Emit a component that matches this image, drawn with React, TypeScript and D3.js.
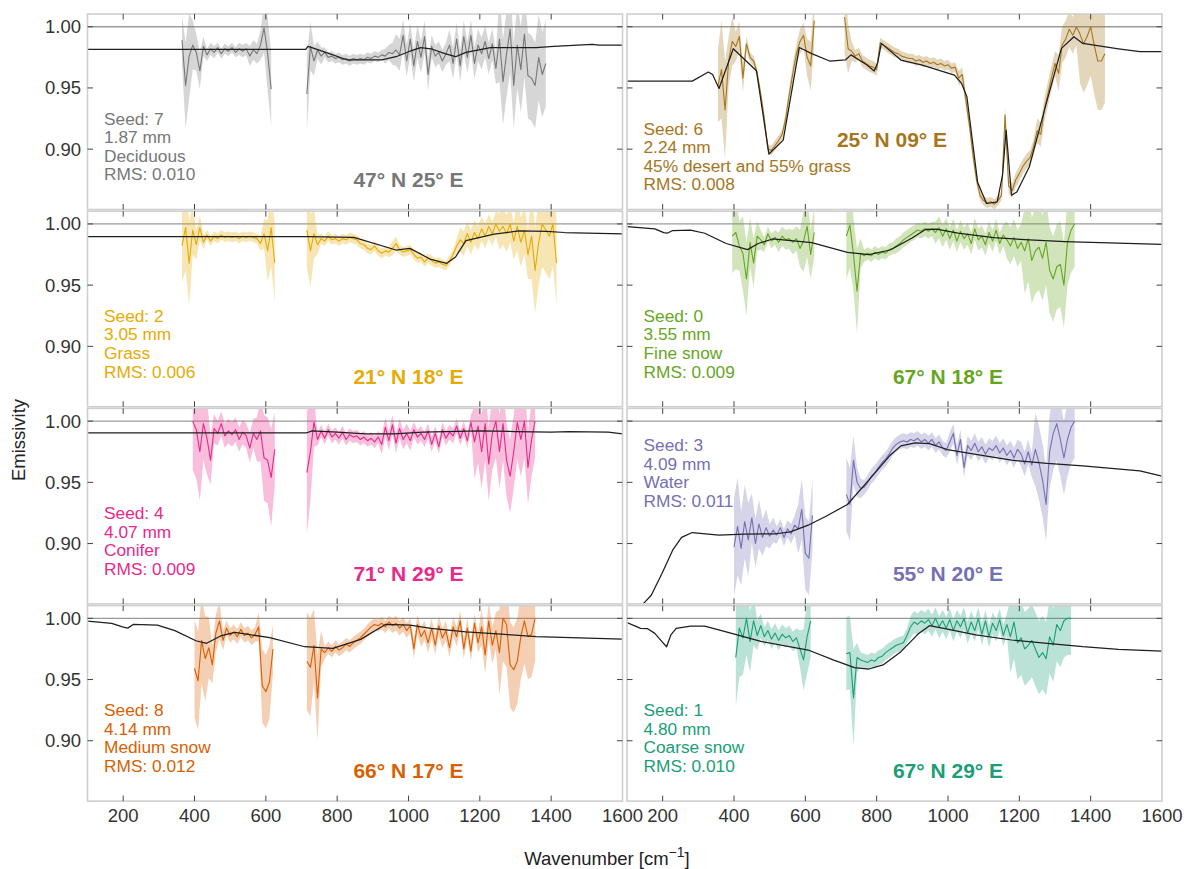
import React from "react";
import * as d3 from "d3";

const W = 1186;
const H = 869;
const COL_X = [87.5, 627];
const COL_W = 535;
const ROW_Y0 = 14;
const ROW_STEP = 197.2;
const ROW_H = 195.5;
const STEP = 10;
const FONT = "'Liberation Sans', Arial, Helvetica, sans-serif";

const X_DOMAIN: [number, number] = [100, 1600];
const Y_DOMAIN: [number, number] = [0.8507, 1.0104];
const X_TICKS = [200, 400, 600, 800, 1000, 1200, 1400, 1600];
const Y_TICKS = [0.9, 0.95, 1.0];

type Pt = [number, number];

// ---------- Panel 1: 47° N 25° E (Deciduous) ----------
const p1Ref: Pt[] = [[100, .9815], [712, .9815], [718, .984], [729, .983], [768, .979], [827, .973], [925, .973], [965, .9755], [1004, .980], [1034, .983], [1063, .982], [1102, .978], [1132, .9755], [1161, .979], [1230, .983], [1358, .983], [1407, .984], [1515, .9855], [1535, .985], [1600, .985]];
const p1AStart = 365;
const p1A = [.989, .952, .976, .985, .979, .964, .984, .977, .982, .979, .983, .978, .982, .980, .983, .979, .982, .980, .982, .976, .981, .978, .985, .999, .978, .949];
const p1ASd: Pt[] = [[365, .02], [375, .035], [395, .02], [405, .015], [425, .008], [435, .005], [465, .004], [525, .005], [555, .008], [585, .012], [595, .02], [605, .03]];
const p1BStart = 715;
const p1B = [.945, .984, .972, .981, .976, .979, .975, .976, .974, .975, .973, .974, .972, .974, .973, .974, .973, .975, .974, .976, .975, .977, .976, .979, .978, .981, .977, .993, .972, .990, .968, .988, .975, .992, .961, .984, .976, .979, .972, .978, .985, .970, .990, .968, .992, .975, .993, .970, .985, .978, .988, .974, .986, .966, .990, .955, .978, .998, .952, .985, .965, .994, .960, .958, .952, .975, .961, .970];
const p1BSd: Pt[] = [[715, .03], [725, .02], [735, .012], [745, .007], [765, .004], [935, .006], [955, .009], [965, .013], [1065, .009], [1115, .013], [1255, .035]];

// ---------- Panel 2: 25° N 09° E (desert / grass) ----------
const p2Ref: Pt[] = [[100, .9556], [283, .9556], [328, .963], [340, .961], [358, .9496], [398, .982], [463, .964], [498, .896], [538, .9074], [583, .983], [618, .978], [668, .972], [713, .973], [728, .977], [773, .9687], [793, .9638], [803, .9706], [813, .9864], [868, .9728], [928, .9687], [1018, .9605], [1038, .9537], [1053, .9428], [1083, .873], [1108, .8556], [1138, .857], [1153, .879], [1163, .9155], [1178, .8624], [1193, .865], [1228, .8856], [1278, .94], [1318, .9823], [1353, .9918], [1378, .9864], [1478, .982], [1538, .9796], [1600, .9796]];
const p2AStart = 355;
const p2A = [.952, .965, .932, .972, .988, .984, .992, .958, .986, .975, .972, .962, .945, .925, .900, .899, .903, .907, .912, .925, .945, .962, .978, .988, .993, .975, .968, 1.005];
const p2ASd: Pt[] = [[355, .03], [365, .04], [385, .02], [405, .012], [435, .006], [445, .004], [545, .005], [565, .008], [585, .01], [605, .015], [615, .02]];
const p2BStart = 710;
const p2B = [1.008, .982, .980, .976, .978, .972, .970, .968, .967, .965, .987, .985, .983, .981, .979, .978, .976, .975, .974, .974, .972, .973, .971, .972, .970, .971, .969, .970, .968, .969, .966, .967, .958, .961, .940, .920, .895, .875, .862, .858, .856, .857, .855, .858, .862, .928, .870, .866, .875, .880, .886, .890, .893, .902, .915, .912, .932, .945, .958, .970, .962, .985, .990, .998, .993, 1.000, .994, .986, .992, 1.000, .985, .972, .972, .978];
const p2BSd: Pt[] = [[710, .03], [720, .02], [730, .008], [740, .005], [810, .004], [1030, .006], [1080, .004], [1160, .006], [1250, .01], [1310, .015], [1370, .04]];

// ---------- Panel 3: 21° N 18° E (Grass) ----------
const p3Ref: Pt[] = [[100, .9896], [719, .9896], [847, .989], [965, .9787], [1004, .980], [1063, .971], [1107, .9678], [1132, .973], [1161, .9864], [1240, .9916], [1309, .9943], [1387, .994], [1437, .993], [1600, .9918]];
const p3AStart = 365;
const p3A = [.982, .997, .968, .995, .983, .997, .985, .991, .986, .990, .988, .991, .989, .990, .989, .990, .988, .990, .989, .990, .989, .988, .984, .992, .978, .997, .968];
const p3ASd: Pt[] = [[365, .03], [375, .035], [395, .02], [405, .012], [415, .01], [425, .006], [435, .004], [585, .006], [595, .012], [605, .025], [615, .032]];
const p3BStart = 715;
const p3B = [.995, .978, .992, .983, .988, .986, .990, .987, .988, .986, .988, .987, .989, .988, .987, .984, .983, .980, .979, .982, .978, .976, .978, .977, .980, .984, .979, .977, .978, .979, .975, .972, .973, .969, .972, .970, .968, .969, .967, .966, .970, .975, .982, .987, .984, .992, .985, .993, .988, .996, .990, .998, .992, 1.000, .994, .998, .992, 1.000, .986, .998, .985, .995, .975, .990, .962, .985, 1.000, .995, .990, 1.000, .968];
const p3BSd: Pt[] = [[715, .03], [735, .02], [745, .008], [755, .004], [955, .006], [975, .004], [1135, .006], [1145, .01], [1255, .015], [1305, .02], [1345, .035]];

// ---------- Panel 4: 67° N 18° E (Fine snow) ----------
const p4Ref: Pt[] = [[100, .9978], [178, .996], [203, .9929], [213, .9924], [228, .9946], [278, .995], [318, .9924], [378, .984], [438, .979], [468, .984], [508, .9877], [618, .9847], [718, .9768], [778, .975], [838, .9787], [898, .9883], [938, .9956], [968, .9958], [1028, .9924], [1128, .9888], [1228, .987], [1328, .9856], [1600, .9834]];
const p4AStart = 395;
const p4A = [.990, .993, .982, .976, .955, .985, .968, .990, .987, .983, .992, .986, .989, .985, .990, .987, .988, .985, .988, .980, .986, .998, .975, .993];
const p4ASd: Pt[] = [[395, .03], [415, .02], [425, .03], [445, .02], [465, .012], [475, .008], [485, .006], [525, .008], [565, .01], [585, .015], [595, .025], [615, .02]];
const p4BStart = 715;
const p4B = [.990, .999, .975, .945, .976, .974, .976, .974, .977, .975, .977, .976, .979, .980, .982, .984, .987, .989, .991, .993, .995, .994, .996, .994, .996, .993, .997, .990, .996, .988, .995, .986, .994, .988, .992, .984, .996, .987, .990, .983, .993, .986, .995, .984, .991, .987, .982, .989, .980, .985, .978, .988, .970, .978, .981, .972, .985, .962, .955, .965, .967, .950, .985, .995, 1.000];
const p4BSd: Pt[] = [[715, .035], [735, .03], [745, .035], [755, .012], [765, .005], [855, .006], [965, .009], [1165, .015], [1215, .035]];

// ---------- Panel 5: 71° N 29° E (Conifer) ----------
const p5Ref: Pt[] = [[100, .9905], [715, .9905], [730, .992], [800, .991], [880, .9895], [960, .9895], [1040, .991], [1200, .992], [1300, .9915], [1400, .991], [1450, .9915], [1560, .991], [1600, .9895]];
const p5AStart = 395;
const p5A = [1.000, .993, .975, .998, .986, .968, .994, .990, .998, .988, .992, .989, .993, .985, .991, .988, .978, .990, .985, .992, .970, .968, .954, .977];
const p5ASd: Pt[] = [[395, .04], [425, .03], [445, .02], [455, .012], [465, .01], [555, .012], [575, .018], [585, .025], [595, .035], [615, .04], [625, .03]];
const p5BStart = 715;
const p5B = [.958, .975, .999, .985, .992, .986, .993, .987, .990, .986, .991, .985, .989, .987, .988, .985, .987, .984, .986, .983, .987, .981, .995, .984, .997, .982, .994, .985, .990, .984, .993, .987, .990, .985, .992, .981, .990, .979, .993, .986, .991, .988, .996, .986, .994, .984, .999, .983, .996, .975, .998, .965, .990, 1.000, .975, .998, .968, .955, .975, .999, .985, 1.000, .962, .985, 1.000];
const p5BSd: Pt[] = [[715, .05], [725, .04], [735, .02], [745, .005], [925, .008], [1015, .006], [1185, .03]];

// ---------- Panel 6: 55° N 20° E (Water) ----------
const p6Ref: Pt[] = [[130, .843], [148, .8515], [168, .8578], [198, .8755], [228, .8946], [253, .905], [283, .909], [358, .9068], [428, .9076], [518, .908], [558, .9095], [608, .915], [658, .9223], [718, .9319], [778, .9518], [838, .9722], [868, .9798], [908, .9823], [948, .9817], [998, .9768], [1078, .9728], [1178, .9681], [1278, .9654], [1378, .9635], [1538, .9594], [1600, .955]];
const p6AStart = 400;
const p6A = [.897, .914, .896, .918, .903, .921, .900, .916, .905, .913, .906, .911, .907, .913, .905, .912, .908, .915, .912, .928, .892, .888, .923];
const p6ASd: Pt[] = [[400, .04], [420, .03], [450, .02], [480, .015], [500, .01], [520, .007], [560, .008], [580, .02], [590, .025], [600, .03]];
const p6BStart = 715;
const p6B = [.940, .932, .968, .950, .945, .946, .950, .955, .958, .962, .966, .969, .973, .978, .981, .983, .984, .983, .985, .984, .986, .983, .985, .982, .985, .980, .983, .978, .976, .983, .990, .972, .985, .962, .980, .976, .982, .975, .979, .973, .978, .976, .980, .974, .978, .972, .976, .970, .977, .973, .965, .975, .964, .977, .966, .952, .932, .975, .990, .998, .985, .970, .985, .995, 1.000];
const p6BSd: Pt[] = [[715, .03], [735, .02], [745, .012], [755, .008], [765, .006], [1005, .008], [1205, .01], [1245, .03]];

// ---------- Panel 7: 66° N 17° E (Medium snow) ----------
const p7Ref: Pt[] = [[100, .9978], [168, .9959], [198, .993], [213, .992], [228, .995], [296, .9945], [345, .990], [404, .9817], [434, .9796], [473, .9856], [513, .9886], [611, .9842], [709, .9768], [788, .9755], [866, .9828], [935, .995], [1004, .9945], [1063, .9918], [1161, .989], [1260, .987], [1358, .985], [1600, .9831]];
const p7AStart = 400;
const p7A = [.959, .949, .982, .967, .976, .962, .988, .998, .982, .992, .986, .989, .985, .991, .986, .988, .984, .987, .993, .945, .940, .948, .975];
const p7ASd: Pt[] = [[400, .04], [420, .035], [440, .025], [450, .015], [480, .008], [490, .006], [580, .012], [590, .03], [620, .02]];
const p7BStart = 715;
const p7B = [.965, .960, .978, .935, .975, .972, .976, .973, .977, .974, .976, .979, .977, .980, .982, .984, .987, .990, .993, .995, .994, .996, .993, .997, .994, .996, .992, .995, .990, .994, .975, .995, .985, .990, .980, .992, .978, .994, .984, .990, .976, .993, .985, .998, .975, .992, .973, .996, .980, .993, .970, .998, .978, .990, .972, 1.000, .995, .962, .958, .965, .985, .998, .985, .987, 1.000];
const p7BSd: Pt[] = [[715, .04], [735, .03], [745, .035], [755, .015], [765, .005], [955, .006], [1015, .008], [1205, .015], [1255, .035]];

// ---------- Panel 8: 67° N 29° E (Coarse snow) ----------
const p8Ref: Pt[] = [[100, .9965], [138, .9918], [158, .9915], [178, .9877], [198, .981], [211, .9768], [223, .9864], [238, .9918], [278, .9937], [318, .9937], [378, .989], [478, .981], [608, .9741], [678, .966], [738, .9597], [778, .9586], [818, .9619], [868, .9728], [918, .9877], [948, .994], [988, .9918], [1078, .9864], [1178, .9823], [1278, .9796], [1378, .9768], [1478, .9747], [1600, .9733]];
const p8AStart = 405;
const p8A = [.968, .992, .984, 1.000, .981, .998, .986, .994, .985, .990, .983, .988, .982, .987, .984, .986, .981, .984, .975, .966, .985, .998];
const p8ASd: Pt[] = [[405, .04], [425, .03], [445, .025], [455, .02], [465, .012], [475, .01], [485, .008], [585, .015], [595, .025], [605, .03]];
const p8BStart = 715;
const p8B = [.971, .972, .935, .968, .966, .965, .964, .966, .965, .968, .969, .972, .974, .976, .978, .979, .980, .986, .993, .997, .995, .998, .996, .999, .994, 1.000, .993, .998, .992, .999, .990, .998, .993, 1.000, .988, .997, .990, 1.000, .987, .998, .985, .996, .990, .999, .986, .995, .985, .997, .980, .984, .975, .978, .982, .975, .968, .972, .967, .985, .978, .995, .990, .998, 1.000, 1.000];
const p8BSd: Pt[] = [[715, .03], [735, .04], [745, .012], [755, .006], [895, .009], [1175, .03]];

interface PanelDef {
  row: number;
  col: number;
  color: string;
  ref: Pt[];
  aStart: number; a: number[]; aSd: Pt[];
  bStart: number; b: number[]; bSd: Pt[];
  lines: string[];
  loc: string;
  textDy: number;
  locWn: number;
  locDy: number;
}

const PANELS: PanelDef[] = [
  { row: 0, col: 0, color: "#777777", ref: p1Ref, aStart: p1AStart, a: p1A, aSd: p1ASd, bStart: p1BStart, b: p1B, bSd: p1BSd, lines: ["Seed: 7", "1.87 mm", "Deciduous", "RMS: 0.010"], loc: "47° N 25° E", textDy: 0, locWn: 1000, locDy: 0 },
  { row: 0, col: 1, color: "#a6761d", ref: p2Ref, aStart: p2AStart, a: p2A, aSd: p2ASd, bStart: p2BStart, b: p2B, bSd: p2BSd, lines: ["Seed: 6", "2.24 mm", "45% desert and 55% grass", "RMS: 0.008"], loc: "25° N 09° E", textDy: 10, locWn: 843, locDy: -40 },
  { row: 1, col: 0, color: "#e6ab02", ref: p3Ref, aStart: p3AStart, a: p3A, aSd: p3ASd, bStart: p3BStart, b: p3B, bSd: p3BSd, lines: ["Seed: 2", "3.05 mm", "Grass", "RMS: 0.006"], loc: "21° N 18° E", textDy: 0, locWn: 1000, locDy: 0 },
  { row: 1, col: 1, color: "#66a61e", ref: p4Ref, aStart: p4AStart, a: p4A, aSd: p4ASd, bStart: p4BStart, b: p4B, bSd: p4BSd, lines: ["Seed: 0", "3.55 mm", "Fine snow", "RMS: 0.009"], loc: "67° N 18° E", textDy: 0, locWn: 1000, locDy: 0 },
  { row: 2, col: 0, color: "#e7298a", ref: p5Ref, aStart: p5AStart, a: p5A, aSd: p5ASd, bStart: p5BStart, b: p5B, bSd: p5BSd, lines: ["Seed: 4", "4.07 mm", "Conifer", "RMS: 0.009"], loc: "71° N 29° E", textDy: 0, locWn: 1000, locDy: 0 },
  { row: 2, col: 1, color: "#7570b3", ref: p6Ref, aStart: p6AStart, a: p6A, aSd: p6ASd, bStart: p6BStart, b: p6B, bSd: p6BSd, lines: ["Seed: 3", "4.09 mm", "Water", "RMS: 0.011"], loc: "55° N 20° E", textDy: -68, locWn: 1000, locDy: 0 },
  { row: 3, col: 0, color: "#d95f02", ref: p7Ref, aStart: p7AStart, a: p7A, aSd: p7ASd, bStart: p7BStart, b: p7B, bSd: p7BSd, lines: ["Seed: 8", "4.14 mm", "Medium snow", "RMS: 0.012"], loc: "66° N 17° E", textDy: 0, locWn: 1000, locDy: 0 },
  { row: 3, col: 1, color: "#1b9e77", ref: p8Ref, aStart: p8AStart, a: p8A, aSd: p8ASd, bStart: p8BStart, b: p8B, bSd: p8BSd, lines: ["Seed: 1", "4.80 mm", "Coarse snow", "RMS: 0.010"], loc: "67° N 29° E", textDy: 0, locWn: 1000, locDy: 0 },
];

interface SegPt { wn: number; v: number; lo: number; hi: number }

function buildSeg(start: number, vals: number[], sdSpec: Pt[]): SegPt[] {
  return vals.map((v, i) => {
    const wn = start + i * STEP;
    let sd = sdSpec[0][1];
    for (const [w, s] of sdSpec) if (wn >= w) sd = s;
    return { wn, v, lo: v - sd, hi: v + sd };
  });
}

function Panel({ p, idx }: { p: PanelDef; idx: number }) {
  const x0 = COL_X[p.col];
  const y0 = ROW_Y0 + p.row * ROW_STEP;
  const x = d3.scaleLinear().domain(X_DOMAIN).range([x0, x0 + COL_W]);
  const y = d3.scaleLinear().domain(Y_DOMAIN).range([y0 + ROW_H, y0]);
  const area = d3.area<SegPt>().x((d) => x(d.wn)).y0((d) => y(d.lo)).y1((d) => y(d.hi));
  const line = d3.line<SegPt>().x((d) => x(d.wn)).y((d) => y(d.v));
  const refLine = d3.line<Pt>().x((d) => x(d[0])).y((d) => y(d[1]));
  const segs = [buildSeg(p.aStart, p.a, p.aSd), buildSeg(p.bStart, p.b, p.bSd)];
  const clipId = `clip-${idx}`;
  const tx = x0 + 16.5;
  const ty = y0 + 110.5 + p.textDy;
  const tickLen = 5.5;
  const tickColor = "#444";
  return (
    <g>
      <clipPath id={clipId}>
        <rect x={x0} y={y0} width={COL_W} height={ROW_H} />
      </clipPath>
      <g clipPath={`url(#${clipId})`}>
        <line x1={x0} x2={x0 + COL_W} y1={y(1)} y2={y(1)} stroke="#9a9a9a" strokeWidth={1.3} />
        {segs.map((s, i) => (
          <path key={`a${i}`} d={area(s) || ""} fill={p.color} fillOpacity={0.3} stroke="none" />
        ))}
        {segs.map((s, i) => (
          <path key={`l${i}`} d={line(s) || ""} fill="none" stroke={p.color} strokeWidth={1.1} strokeLinejoin="round" />
        ))}
        <path d={refLine(p.ref) || ""} fill="none" stroke="#1e1e1e" strokeWidth={1.25} strokeLinejoin="round" />
      </g>
      <rect x={x0} y={y0} width={COL_W} height={ROW_H} fill="none" stroke="#cfcfcf" strokeWidth={1.6} />
      {X_TICKS.filter((t) => t < 1600).map((t) => (
        <g key={`xt${t}`} stroke={tickColor} strokeWidth={1}>
          <line x1={x(t)} x2={x(t)} y1={y0} y2={y0 + tickLen} />
          <line x1={x(t)} x2={x(t)} y1={y0 + ROW_H} y2={y0 + ROW_H - tickLen} />
        </g>
      ))}
      {Y_TICKS.map((t) => (
        <g key={`yt${t}`} stroke={tickColor} strokeWidth={1}>
          <line x1={x0} x2={x0 + tickLen} y1={y(t)} y2={y(t)} />
          <line x1={x0 + COL_W} x2={x0 + COL_W - tickLen} y1={y(t)} y2={y(t)} />
        </g>
      ))}
      {p.col === 0 &&
        Y_TICKS.map((t) => (
          <text key={`yl${t}`} x={x0 - 6.5} y={y(t) + 6.5} textAnchor="end" fontSize={18.5} fill="#333">
            {d3.format(".2f")(t)}
          </text>
        ))}
      {p.row === 3 &&
        X_TICKS.map((t) => (
          <text key={`xl${t}`} x={x(t)} y={822} textAnchor="middle" fontSize={18.5} fill="#333">
            {t}
          </text>
        ))}
      <g fill={p.color} fontSize={17.3}>
        {p.lines.map((s, i) => (
          <text key={`t${i}`} x={tx} y={ty + i * 18.6}>
            {s}
          </text>
        ))}
      </g>
      <text x={x(p.locWn)} y={y0 + 172.5 + p.locDy} textAnchor="middle" fontSize={21} fontWeight="bold" fill={p.color}>
        {p.loc}
      </text>
    </g>
  );
}

export default function App() {
  return (
    <svg
      width={W}
      height={H}
      viewBox={`0 0 ${W} ${H}`}
      style={{ position: "absolute", left: 0, top: 0, display: "block", background: "#fff" }}
      fontFamily={FONT}
    >
      <rect x={0} y={0} width={W} height={H} fill="#fff" />
      {PANELS.map((p, i) => (
        <Panel key={i} p={p} idx={i} />
      ))}
      <text transform="translate(25,440) rotate(-90)" textAnchor="middle" fontSize={18.5} fill="#222">
        Emissivity
      </text>
      <text x={607} y={865} textAnchor="middle" fontSize={18.5} fill="#222">
        Wavenumber [cm
        <tspan dy={-8} fontSize={14}>−1</tspan>
        <tspan dy={8}>]</tspan>
      </text>
    </svg>
  );
}
